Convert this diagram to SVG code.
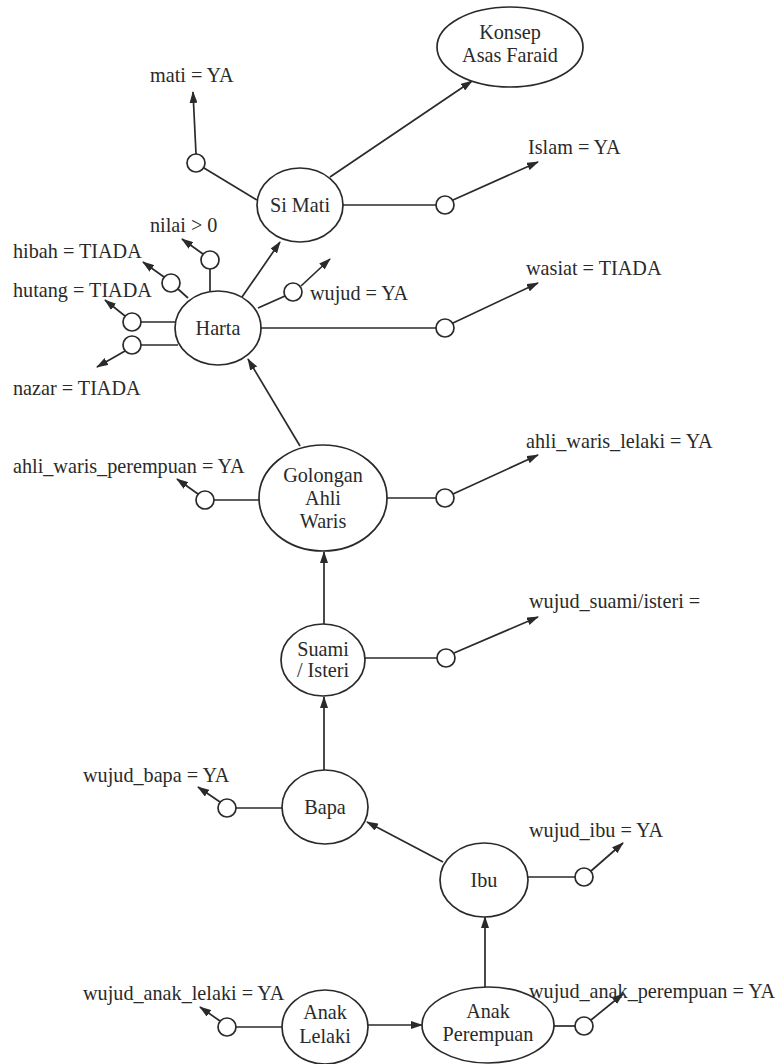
<svg xmlns="http://www.w3.org/2000/svg" width="780" height="1064" viewBox="0 0 780 1064">
<style>
  text { font-family: "Liberation Serif", "Times New Roman", serif; font-size: 20.2px; fill: #2a2a2a; }
  .c { text-anchor: middle; }
  .node { fill: #ffffff; stroke: #2a2a2a; stroke-width: 1.7; }
  .jn { fill: #ffffff; stroke: #2a2a2a; stroke-width: 1.7; }
  .edge { stroke: #2a2a2a; stroke-width: 1.7; fill: none; }
  .arr { marker-end: url(#ah); }
</style>
<defs>
  <marker id="ah" markerUnits="userSpaceOnUse" markerWidth="12" markerHeight="8" refX="11" refY="4" orient="auto">
    <path d="M0,0 L12,4 L0,8 z" fill="#2a2a2a"/>
  </marker>
</defs>
<rect width="780" height="1064" fill="#ffffff"/>

<g id="connectors">
  <line class="edge arr" x1="330" y1="177" x2="472" y2="81"/>
  <line class="edge" x1="257" y1="200" x2="204" y2="168"/>
  <line class="edge arr" x1="196" y1="154" x2="193" y2="92"/>
  <line class="edge" x1="343" y1="205" x2="436" y2="205"/>
  <line class="edge arr" x1="453" y1="200" x2="538" y2="162"/>
  <line class="edge arr" x1="242" y1="297" x2="280" y2="242"/>
  <line class="edge" x1="210" y1="291" x2="210" y2="269"/>
  <line class="edge arr" x1="203" y1="254" x2="182" y2="239"/>
  <line class="edge" x1="188" y1="298" x2="178" y2="289"/>
  <line class="edge arr" x1="164" y1="277" x2="143" y2="262"/>
  <line class="edge" x1="176" y1="322" x2="141" y2="322"/>
  <line class="edge arr" x1="125" y1="316" x2="105" y2="300"/>
  <line class="edge" x1="178" y1="345" x2="141" y2="345"/>
  <line class="edge arr" x1="125" y1="351" x2="97" y2="367"/>
  <line class="edge" x1="258" y1="308" x2="285" y2="296"/>
  <line class="edge arr" x1="301" y1="286" x2="330" y2="259"/>
  <line class="edge" x1="261" y1="328" x2="436" y2="328"/>
  <line class="edge arr" x1="453" y1="323" x2="538" y2="283"/>
  <line class="edge arr" x1="300" y1="446" x2="248" y2="359"/>
  <line class="edge" x1="259" y1="500" x2="214" y2="500"/>
  <line class="edge arr" x1="198" y1="494" x2="177" y2="479"/>
  <line class="edge" x1="387" y1="498" x2="436" y2="498"/>
  <line class="edge arr" x1="453" y1="494" x2="538" y2="455"/>
  <line class="edge arr" x1="324" y1="624" x2="324" y2="552"/>
  <line class="edge" x1="365" y1="658" x2="437" y2="658"/>
  <line class="edge arr" x1="454" y1="653" x2="538" y2="617"/>
  <line class="edge arr" x1="324" y1="770" x2="324" y2="697"/>
  <line class="edge" x1="282" y1="808" x2="236" y2="808"/>
  <line class="edge arr" x1="220" y1="802" x2="198" y2="787"/>
  <line class="edge arr" x1="443" y1="862" x2="367" y2="822"/>
  <line class="edge" x1="528" y1="877" x2="575" y2="877"/>
  <line class="edge arr" x1="591" y1="871" x2="623" y2="843"/>
  <line class="edge arr" x1="485" y1="987" x2="485" y2="917"/>
  <line class="edge" x1="554" y1="1026" x2="575" y2="1026"/>
  <line class="edge arr" x1="591" y1="1020" x2="623" y2="994"/>
  <line class="edge" x1="283" y1="1027" x2="236" y2="1027"/>
  <line class="edge arr" x1="220" y1="1021" x2="200" y2="1007"/>
  <line class="edge arr" x1="368" y1="1025" x2="422" y2="1025"/>
</g>

<g id="konsep">
  <ellipse class="node" cx="510" cy="47" rx="73" ry="40"/>
  <text class="c" x="510" y="39">Konsep</text>
  <text class="c" x="510" y="62">Asas Faraid</text>
</g>
<g id="si-mati">
  <ellipse class="node" cx="300" cy="205" rx="43" ry="37"/>
  <text class="c" x="300" y="212">Si Mati</text>
</g>
<g id="harta">
  <ellipse class="node" cx="218" cy="328" rx="43" ry="37"/>
  <text class="c" x="218" y="335">Harta</text>
</g>
<g id="golongan">
  <ellipse class="node" cx="323" cy="498" rx="64" ry="53"/>
  <text class="c" x="323" y="482">Golongan</text>
  <text class="c" x="323" y="505">Ahli</text>
  <text class="c" x="323" y="528">Waris</text>
</g>
<g id="suami-isteri">
  <ellipse class="node" cx="323" cy="660" rx="42" ry="36"/>
  <text class="c" x="323" y="656">Suami</text>
  <text class="c" x="323" y="677">/ Isteri</text>
</g>
<g id="bapa">
  <ellipse class="node" cx="325" cy="807" rx="43" ry="37"/>
  <text class="c" x="325" y="814">Bapa</text>
</g>
<g id="ibu">
  <ellipse class="node" cx="484" cy="880" rx="44" ry="37"/>
  <text class="c" x="484" y="887">Ibu</text>
</g>
<g id="anak-perempuan">
  <ellipse class="node" cx="488" cy="1025" rx="66" ry="38"/>
  <text class="c" x="488" y="1018">Anak</text>
  <text class="c" x="488" y="1041">Perempuan</text>
</g>
<g id="anak-lelaki">
  <ellipse class="node" cx="325" cy="1027" rx="43" ry="37"/>
  <text class="c" x="325" y="1019">Anak</text>
  <text class="c" x="325" y="1043">Lelaki</text>
</g>

<g id="cond-mati"><circle class="jn" cx="196" cy="163" r="9"/><text x="150" y="82">mati = YA</text></g>
<g id="cond-islam"><circle class="jn" cx="445" cy="205" r="9"/><text x="528" y="154">Islam = YA</text></g>
<g id="cond-nilai"><circle class="jn" cx="210" cy="260" r="9"/><text x="150" y="232">nilai &gt; 0</text></g>
<g id="cond-hibah"><circle class="jn" cx="171" cy="283" r="9"/><text x="13" y="258">hibah = TIADA</text></g>
<g id="cond-hutang"><circle class="jn" cx="132" cy="322" r="9"/><text x="13" y="297">hutang = TIADA</text></g>
<g id="cond-nazar"><circle class="jn" cx="132" cy="345" r="9"/><text x="13" y="395">nazar = TIADA</text></g>
<g id="cond-wujud"><circle class="jn" cx="293" cy="292" r="9"/><text x="310" y="300">wujud = YA</text></g>
<g id="cond-wasiat"><circle class="jn" cx="445" cy="328" r="9"/><text x="526" y="275">wasiat = TIADA</text></g>
<g id="cond-awp"><circle class="jn" cx="205" cy="500" r="9"/><text x="13" y="473">ahli_waris_perempuan = YA</text></g>
<g id="cond-awl"><circle class="jn" cx="445" cy="498" r="9"/><text x="526" y="448">ahli_waris_lelaki = YA</text></g>
<g id="cond-suami"><circle class="jn" cx="446" cy="658" r="9"/><text x="529" y="608">wujud_suami/isteri =</text></g>
<g id="cond-bapa"><circle class="jn" cx="227" cy="808" r="9"/><text x="83" y="782">wujud_bapa = YA</text></g>
<g id="cond-ibu"><circle class="jn" cx="584" cy="877" r="9"/><text x="529" y="837">wujud_ibu = YA</text></g>
<g id="cond-ap"><circle class="jn" cx="584" cy="1026" r="9"/><text x="529" y="998">wujud_anak_perempuan = YA</text></g>
<g id="cond-al"><circle class="jn" cx="227" cy="1027" r="9"/><text x="83" y="1000">wujud_anak_lelaki = YA</text></g>
</svg>
